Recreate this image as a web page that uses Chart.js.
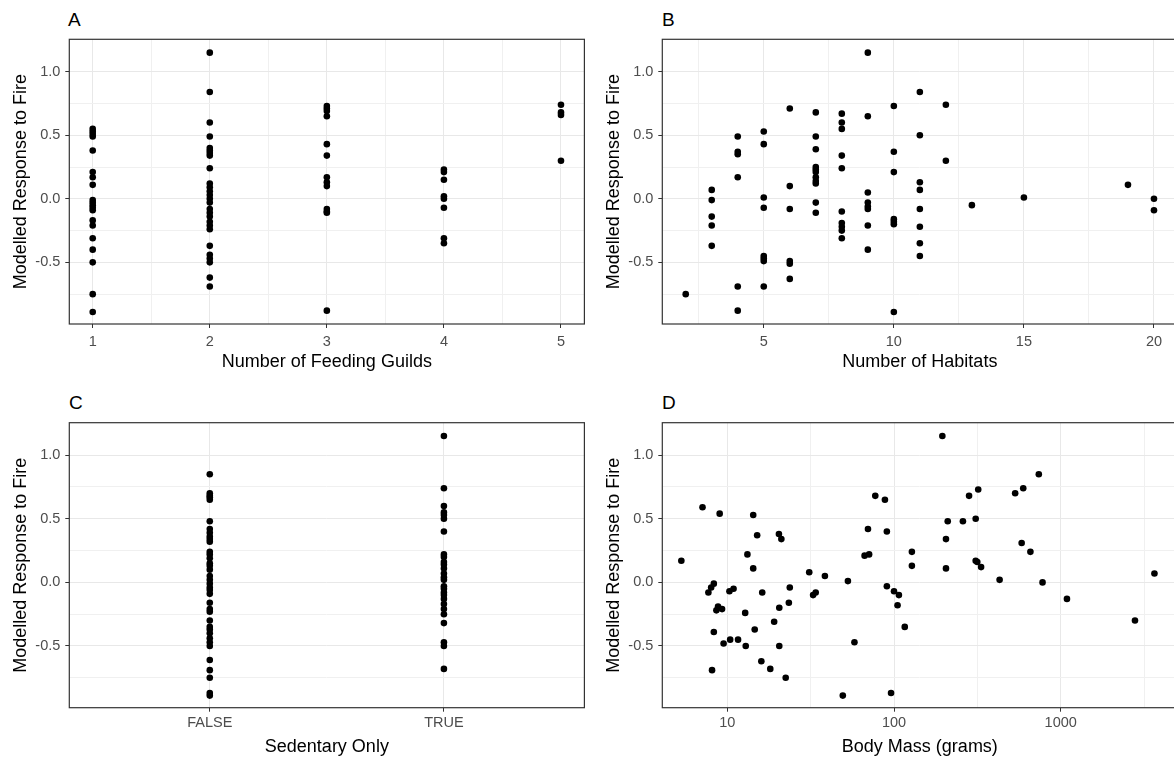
<!DOCTYPE html>
<html>
<head>
<meta charset="utf-8">
<script src="https://cdn.jsdelivr.net/npm/chart.js@4.4.1/dist/chart.umd.min.js"></script>
<style>
  html, body { margin: 0; padding: 0; background: #fff; overflow: hidden; }
  #page { position: relative; width: 1174px; height: 760px; overflow: hidden; }
  canvas { position: absolute; }
  .tag { position: absolute; font-family: "Liberation Sans", Arial, sans-serif; font-size: 19px; line-height: 19px; color: #000; }
</style>
</head>
<body>
<div id="page">
  <div class="tag" style="left:68px;top:10px">A</div>
  <div class="tag" style="left:662px;top:10px">B</div>
  <div class="tag" style="left:69px;top:393px">C</div>
  <div class="tag" style="left:662px;top:393px">D</div>
  <canvas id="chartA" width="600" height="380" style="left:0;top:0"></canvas>
  <canvas id="chartB" width="600" height="380" style="left:593px;top:0"></canvas>
  <canvas id="chartC" width="600" height="380" style="left:0;top:380px"></canvas>
  <canvas id="chartD" width="600" height="380" style="left:593px;top:380px"></canvas>
</div>
<script>
// Panel A - modelled response grouped by number of feeding guilds
const guildLevels = [1, 2, 3, 4, 5];
const guild1 = [0.55, 0.53, 0.51, 0.49, 0.38, 0.21, 0.17, 0.11, -0.01, -0.03, -0.05, -0.07, -0.09, -0.17, -0.21, -0.31, -0.40, -0.50, -0.75, -0.89];
const guild2 = [1.15, 0.84, 0.60, 0.49, 0.40, 0.38, 0.36, 0.34, 0.24, 0.12, 0.09, 0.06, 0.03, 0.00, -0.03, -0.08, -0.11, -0.14, -0.18, -0.21, -0.24, -0.37, -0.44, -0.47, -0.50, -0.62, -0.69];
const guild3 = [0.73, 0.71, 0.69, 0.65, 0.43, 0.34, 0.17, 0.13, 0.10, -0.08, -0.10, -0.11, -0.88];
const guild4 = [0.23, 0.21, 0.15, 0.02, 0.00, -0.07, -0.31, -0.35];
const guild5 = [0.74, 0.68, 0.66, 0.30];

// Panel B - number of habitats vs response
const habitatCount = [2, 3, 3, 3, 3, 3, 4, 4, 4, 4, 4, 4, 5, 5, 5, 5, 5, 5, 5, 5,
  6, 6, 6, 6, 6, 6, 7, 7, 7, 7, 7, 7, 7, 7, 7, 7, 7, 8, 8, 8, 8, 8, 8, 8, 8, 8, 8,
  9, 9, 9, 9, 9, 9, 9, 9, 10, 10, 10, 10, 10, 10, 10, 11, 11, 11, 11, 11, 11, 11, 11,
  12, 12, 13, 15, 19, 20, 20];
const habitatResponse = [-0.75, 0.07, -0.01, -0.14, -0.21, -0.37, 0.49, 0.37, 0.35, 0.17, -0.69, -0.88,
  0.53, 0.43, 0.01, -0.07, -0.45, -0.47, -0.49, -0.69,
  0.71, 0.10, -0.08, -0.49, -0.51, -0.63,
  0.68, 0.49, 0.39, 0.25, 0.23, 0.21, 0.17, 0.14, 0.12, -0.03, -0.11,
  0.67, 0.60, 0.55, 0.34, 0.24, -0.10, -0.19, -0.22, -0.25, -0.31,
  1.15, 0.65, 0.05, -0.03, -0.06, -0.08, -0.21, -0.40,
  0.73, 0.37, 0.21, -0.16, -0.18, -0.20, -0.89,
  0.84, 0.50, 0.13, 0.07, -0.08, -0.22, -0.35, -0.45,
  0.74, 0.30, -0.05, 0.01, 0.11, 0.00, -0.09];

// Panel C - sedentary only (FALSE / TRUE)
const sedentaryLevels = ["FALSE", "TRUE"];
const sedentaryFalse = [0.85, 0.70, 0.68, 0.67, 0.65, 0.48, 0.42, 0.39, 0.36, 0.34, 0.32, 0.24, 0.22, 0.19, 0.15, 0.13, 0.10, 0.05, 0.02, -0.01, -0.04, -0.06, -0.09, -0.16, -0.21, -0.23, -0.30, -0.35, -0.37, -0.40, -0.44, -0.47, -0.50, -0.61, -0.69, -0.75, -0.87, -0.89];
const sedentaryTrue = [1.15, 0.74, 0.60, 0.55, 0.53, 0.50, 0.40, 0.22, 0.20, 0.16, 0.14, 0.11, 0.07, 0.04, 0.02, -0.03, -0.05, -0.08, -0.10, -0.13, -0.17, -0.21, -0.25, -0.32, -0.47, -0.50, -0.68];

// Panel D - body mass (grams, log axis) vs response
const bodyMass = [5.3, 7.1, 7.7, 8.0, 8.3, 8.3, 8.1, 8.6, 8.8, 9.0,
  9.3, 9.5, 10.3, 10.4, 10.9, 11.6, 12.8, 12.9, 13.2, 14.3,
  14.3, 14.6, 15.1, 16.2, 16.0, 18.1, 19.1, 20.4, 21.1, 20.5,
  20.5, 22.4, 23.4, 23.7, 31.0, 32.7, 33.9, 38.5, 49.3, 52.9,
  57.9, 66.6, 69.8, 70.9, 77.2, 88.2, 90.6, 90.6, 96, 100,
  107, 105, 116, 128, 128, 195, 205, 205, 210, 259,
  282, 309, 309, 320, 316, 333, 430, 533, 596, 583,
  658, 739, 778, 1090, 2790, 3650];
const massResponse = [0.17, 0.59, -0.08, -0.04, -0.01, -0.39, -0.69, -0.22, -0.19, 0.54,
  -0.21, -0.48, -0.07, -0.45, -0.05, -0.45, -0.24, -0.50, 0.22, 0.53,
  0.11, -0.37, 0.37, -0.08, -0.62, -0.68, -0.31, 0.38, 0.34, -0.20,
  -0.50, -0.75, -0.16, -0.04, 0.08, -0.10, -0.08, 0.05, -0.89, 0.01,
  -0.47, 0.21, 0.42, 0.22, 0.68, 0.65, 0.40, -0.03, -0.87, -0.07,
  -0.10, -0.18, -0.35, 0.24, 0.13, 1.15, 0.34, 0.11, 0.48, 0.48,
  0.68, 0.50, 0.17, 0.73, 0.16, 0.12, 0.02, 0.70, 0.74, 0.31,
  0.24, 0.85, 0.00, -0.13, -0.30, 0.07];

// Shared y axis ticks (majors are labelled, minors only get a grid line)
const yMajor = [-0.5, 0.0, 0.5, 1.0];
const yMinor = [-0.75, -0.25, 0.25, 0.75];

const FONT = '"Liberation Sans", Arial, sans-serif';

// draws the ggplot style box round the plotting area
const panelBox = {
  id: "panelBox",
  afterDatasetsDraw(chart) {
    const a = chart.chartArea;
    const ctx = chart.ctx;
    ctx.save();
    ctx.strokeStyle = "#333333";
    ctx.lineWidth = 1.2;
    ctx.strokeRect(a.left, a.top, a.right - a.left, a.bottom - a.top);
    ctx.restore();
  }
};

// row settings so both rows line up with the reference
const row1 = { padTop: 39.3, xHeight: 56, tickPad: 4.8, titlePad: 7.5 };
const row2 = { padTop: 42.7, xHeight: 52.3, tickPad: 2.9, titlePad: 2.5 };

function gridStyle(majors) {
  const isMajor = ctx => ctx.tick && majors.some(m => Math.abs(m - ctx.tick.value) < 1e-9);
  return {
    color: ctx => isMajor(ctx) ? "#E8E8E8" : "#F0F0F0",
    tickColor: ctx => isMajor(ctx) ? "#333333" : "rgba(0,0,0,0)",
    tickLength: 4,
    lineWidth: 1
  };
}

function scatterPanel(id, points, xAxis, row) {
  const xTicks = xAxis.majors.concat(xAxis.minors).sort((a, b) => a - b);
  const yTicks = yMajor.concat(yMinor).sort((a, b) => a - b);
  return new Chart(document.getElementById(id), {
    type: "scatter",
    data: {
      datasets: [{
        data: points,
        backgroundColor: "#000000",
        borderWidth: 0,
        pointRadius: 3.3,
        pointHoverRadius: 3.3
      }]
    },
    options: {
      responsive: false,
      animation: false,
      devicePixelRatio: 1,
      layout: { padding: { top: row.padTop, right: 15.6, left: 0, bottom: 0 } },
      plugins: { legend: { display: false }, tooltip: { enabled: false } },
      scales: {
        x: {
          type: xAxis.type,
          min: xAxis.min,
          max: xAxis.max,
          afterBuildTicks: s => { s.ticks = xTicks.map(v => ({ value: v })); },
          afterFit: s => { s.height = row.xHeight; },
          ticks: {
            autoSkip: false,
            maxRotation: 0,
            padding: row.tickPad,
            color: "#4D4D4D",
            font: { family: FONT, size: 14.5 },
            callback: v => xAxis.majors.some(m => Math.abs(m - v) < 1e-9) ? xAxis.label(v) : ""
          },
          grid: gridStyle(xAxis.majors),
          border: { display: false },
          title: {
            display: true,
            text: xAxis.title,
            color: "#000000",
            font: { family: FONT, size: 18 },
            padding: { top: 0, bottom: row.titlePad }
          }
        },
        y: {
          type: "linear",
          min: -0.985,
          max: 1.255,
          afterBuildTicks: s => { s.ticks = yTicks.map(v => ({ value: v })); },
          afterFit: s => { s.width = 69.3; },
          ticks: {
            autoSkip: false,
            padding: 5,
            color: "#4D4D4D",
            font: { family: FONT, size: 14.5 },
            callback: v => yMajor.some(m => Math.abs(m - v) < 1e-9) ? v.toFixed(1) : ""
          },
          grid: gridStyle(yMajor),
          border: { display: false },
          title: {
            display: true,
            text: "Modelled Response to Fire",
            color: "#000000",
            font: { family: FONT, size: 18 },
            padding: { top: 10, bottom: 0 }
          }
        }
      }
    },
    plugins: [panelBox]
  });
}

// Panel A
const guildGroups = [guild1, guild2, guild3, guild4, guild5];
const pointsA = [];
guildGroups.forEach((vals, i) => vals.forEach(v => pointsA.push({ x: guildLevels[i], y: v })));
scatterPanel("chartA", pointsA, {
  type: "linear", min: 0.8, max: 5.2,
  majors: [1, 2, 3, 4, 5], minors: [1.5, 2.5, 3.5, 4.5],
  label: v => String(v), title: "Number of Feeding Guilds"
}, row1);

// Panel B
const pointsB = habitatCount.map((h, i) => ({ x: h, y: habitatResponse[i] }));
scatterPanel("chartB", pointsB, {
  type: "linear", min: 1.1, max: 20.9,
  majors: [5, 10, 15, 20], minors: [2.5, 7.5, 12.5, 17.5],
  label: v => String(v), title: "Number of Habitats"
}, row1);

// Panel C (discrete axis drawn on positions 1 and 2)
const pointsC = [];
sedentaryFalse.forEach(v => pointsC.push({ x: 1, y: v }));
sedentaryTrue.forEach(v => pointsC.push({ x: 2, y: v }));
scatterPanel("chartC", pointsC, {
  type: "linear", min: 0.4, max: 2.6,
  majors: [1, 2], minors: [],
  label: v => sedentaryLevels[Math.round(v) - 1], title: "Sedentary Only"
}, row2);

// Panel D (log10 x axis)
const pointsD = bodyMass.map((m, i) => ({ x: m, y: massResponse[i] }));
scatterPanel("chartD", pointsD, {
  type: "logarithmic", min: Math.pow(10, 0.61), max: Math.pow(10, 3.70),
  majors: [10, 100, 1000], minors: [Math.sqrt(10) * 10, Math.sqrt(10) * 100, Math.sqrt(10) * 1000],
  label: v => String(Math.round(v)), title: "Body Mass (grams)"
}, row2);
</script>
</body>
</html>
